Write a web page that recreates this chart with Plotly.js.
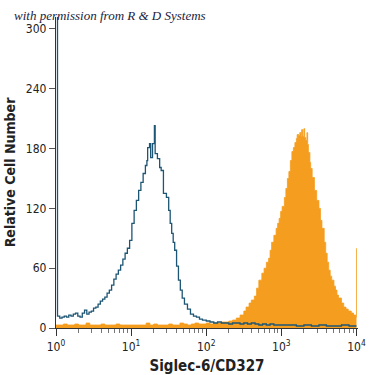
<!DOCTYPE html>
<html>
<head>
<meta charset="utf-8">
<script src="https://cdn.plot.ly/plotly-3.0.1.min.js"></script>
<style>html,body{margin:0;padding:0;background:#fff}#chart{width:375px;height:375px}</style>
</head>
<body>
<div id="chart"></div>
<script>
// log10 of fluorescence intensity and relative cell counts
const isotypeLogX = [0.00,0.02,0.05,0.08,0.11,0.14,0.17,0.20,0.23,0.26,0.29,0.32,0.35,0.38,0.41,0.44,0.47,0.50,0.53,0.56,0.59,0.62,0.65,0.68,0.71,0.74,0.77,0.80,0.83,0.86,0.89,0.92,0.95,0.98,1.01,1.04,1.07,1.10,1.13,1.16,1.19,1.21,1.22,1.245,1.26,1.285,1.31,1.32,1.35,1.38,1.40,1.43,1.47,1.50,1.52,1.54,1.56,1.58,1.605,1.63,1.655,1.68,1.71,1.75,1.79,1.83,1.87,1.91,1.95,2.00,2.05,2.10,2.15,2.20,2.25,2.30,2.35,2.40,2.45,2.50,2.55,2.60,2.65,2.70,2.75,2.80,2.85,2.90,2.95,3.00,3.10,3.20,3.30,3.40,3.50,3.60,3.70,3.80,3.90,4.00];
const isotypeCounts = [330,12,10,11,12,11,13,12,14,15,12,11,15,18,14,16,17,20,21,24,27,29,31,35,38,43,49,54,58,63,69,75,80,88,105,118,128,138,146,155,163,168,181,185,171,185,203,175,170,161,158,135,131,118,105,95,86,78,62,48,38,30,24,19,14,12,11,9,8,7,6,5,6,5,5,4,5,5,4,5,4,5,4,3,4,3,4,3,3,3,3,2,3,2,3,2,2,3,2,2];

const siglecLogX = [0.00,0.05,0.10,0.15,0.20,0.25,0.30,0.35,0.40,0.45,0.50,0.55,0.60,0.65,0.70,0.75,0.80,0.85,0.90,0.95,1.00,1.05,1.10,1.15,1.20,1.25,1.30,1.35,1.40,1.45,1.50,1.55,1.60,1.65,1.70,1.75,1.80,1.85,1.90,1.95,2.00,2.05,2.10,2.15,2.20,2.25,2.30,2.35,2.40,2.45,2.50,2.53,2.57,2.60,2.64,2.67,2.70,2.74,2.77,2.80,2.83,2.85,2.87,2.90,2.93,2.95,2.97,2.99,3.01,3.04,3.06,3.08,3.10,3.12,3.14,3.16,3.18,3.20,3.21,3.23,3.245,3.26,3.27,3.285,3.30,3.31,3.325,3.34,3.35,3.36,3.38,3.39,3.41,3.44,3.47,3.50,3.52,3.54,3.57,3.59,3.61,3.63,3.65,3.67,3.70,3.72,3.74,3.76,3.80,3.83,3.86,3.89,3.93,3.96,3.99,4.00];
const siglecCounts = [3,3,4,3,3,4,3,3,5,3,3,3,4,3,3,3,4,3,3,3,3,3,3,3,5,3,4,3,3,3,4,3,3,5,4,3,4,5,4,4,5,4,5,5,6,6,7,8,10,13,17,21,25,28,32,40,48,55,60,66,70,78,86,93,100,105,110,117,122,131,140,150,157,168,177,181,186,190,194,193,196,192,199,192,200,191,188,196,184,176,166,160,151,138,128,120,108,100,86,75,66,58,52,48,42,38,33,30,25,21,19,17,15,13,11,80];

const xTickVals = [1,10,100,1000,10000];
const xTickText = ['10<sup>0</sup>','10<sup>1</sup>','10<sup>2</sup>','10<sup>3</sup>','10<sup>4</sup>'];
const yTickVals = [0,60,120,180,240,300];

const minorVals = [];
[1,10,100,1000].forEach(d => { for (let k = 2; k <= 9; k++) minorVals.push(d*k); });

const toX = a => a.map(v => Math.pow(10, v));
const narrow = 'Liberation Sans Narrow, DejaVu Sans Condensed, Arial Narrow, sans-serif';

const traces = [
  {
    x: toX(siglecLogX), y: siglecCounts, type: 'scatter', mode: 'lines',
    line: {shape: 'hv', color: '#f59d1e', width: 0.8},
    fill: 'tozeroy', fillcolor: '#f59d1e', hoverinfo: 'skip'
  },
  {
    x: toX(isotypeLogX), y: isotypeCounts, type: 'scatter', mode: 'lines',
    line: {shape: 'hv', color: '#1d5675', width: 1.3}, hoverinfo: 'skip'
  }
];

const layout = {
  width: 375, height: 375,
  margin: {l: 56, r: 17, t: 17, b: 47},
  paper_bgcolor: '#fff', plot_bgcolor: '#fff',
  showlegend: false,
  font: {family: narrow, color: '#222'},
  xaxis: {
    type: 'log', range: [0, 4.02],
    tickmode: 'array', tickvals: xTickVals, ticktext: xTickText,
    ticks: 'outside', ticklen: 7, tickcolor: '#333', tickwidth: 1,
    minor: {tickmode: 'array', tickvals: minorVals, ticks: 'outside', ticklen: 4, tickcolor: '#777', showgrid: false},
    showline: true, linecolor: '#333', linewidth: 1.2,
    showgrid: false, zeroline: false,
    tickfont: {family: narrow, size: 12, color: '#222'},
    title: {text: '<b>Siglec-6/CD327</b>', font: {family: narrow, size: 15, color: '#222'}, standoff: 9}
  },
  yaxis: {
    range: [0, 312],
    tickmode: 'array', tickvals: yTickVals,
    ticks: 'outside', ticklen: 6, tickcolor: '#555', tickwidth: 1,
    showline: true, linecolor: '#333', linewidth: 1.2,
    showgrid: false, zeroline: false,
    tickfont: {family: narrow, size: 12, color: '#222'},
    title: {text: '<b>Relative Cell Number</b>', font: {family: narrow, size: 14, color: '#222'}, standoff: 6}
  },
  annotations: [{
    text: '<i>with permission from R &amp; D Systems</i>',
    xref: 'paper', yref: 'paper', x: -0.147, y: 1.004,
    xanchor: 'left', yanchor: 'middle', showarrow: false,
    font: {family: 'Liberation Serif, DejaVu Serif, serif', size: 13, color: '#1a2340'}
  }]
};

Plotly.newPlot('chart', traces, layout, {staticPlot: true, displayModeBar: false});
</script>
</body>
</html>
